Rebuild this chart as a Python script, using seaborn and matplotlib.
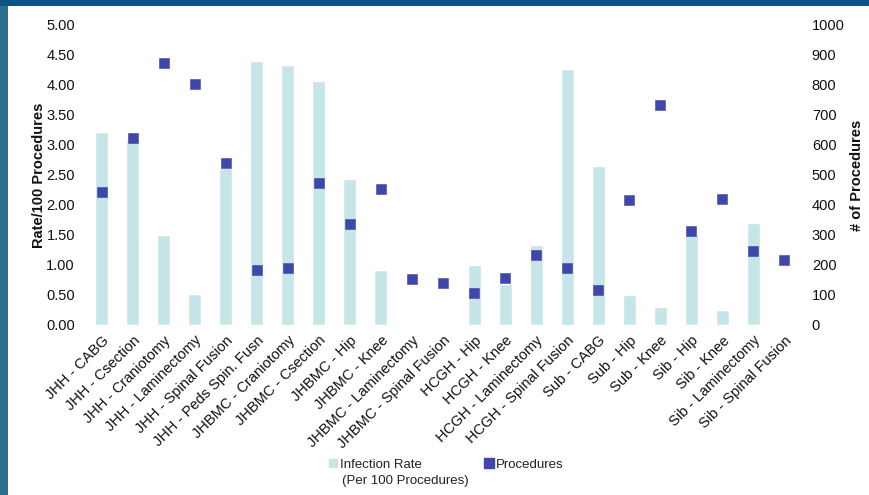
import matplotlib
matplotlib.use("Agg")
import matplotlib.pyplot as plt
from matplotlib.lines import Line2D
from matplotlib.patches import Rectangle
import seaborn as sns
import pandas as pd

procedures_cat = [
    "JHH - CABG", "JHH - Csection", "JHH - Craniotomy", "JHH - Laminectomy",
    "JHH - Spinal Fusion", "JHH - Peds Spin. Fusn", "JHBMC - Craniotomy",
    "JHBMC - Csection", "JHBMC - Hip", "JHBMC - Knee", "JHBMC - Laminectomy",
    "JHBMC - Spinal Fusion", "HCGH - Hip", "HCGH - Knee", "HCGH - Laminectomy",
    "HCGH - Spinal Fusion", "Sub - CABG", "Sub - Hip", "Sub - Knee",
    "Sib - Hip", "Sib - Knee", "Sib - Laminectomy", "Sib - Spinal Fusion",
]
infection_rate = [3.22, 3.08, 1.50, 0.52, 2.62, 4.40, 4.33, 4.07, 2.43, 0.91,
                  0.00, 0.00, 1.00, 0.68, 1.33, 4.27, 2.65, 0.50, 0.30,
                  1.52, 0.25, 1.70, 0.00]
procedure_count = [443, 623, 875, 803, 540, 185, 189, 473, 338, 453,
                   155, 141, 108, 156, 233, 191, 118, 416, 735,
                   313, 421, 246, 218]
rate_ticks = [0, 0.5, 1.0, 1.5, 2.0, 2.5, 3.0, 3.5, 4.0, 4.5, 5.0]
count_ticks = [0, 100, 200, 300, 400, 500, 600, 700, 800, 900, 1000]

df = pd.DataFrame({"category": procedures_cat,
                   "rate": infection_rate,
                   "count": procedure_count})

BAR = "#c6e5e8"
MARK = "#4047aa"
TXT = "#111111"
FS = 10.5

sns.set_style("white")
plt.rcParams["font.family"] = ["Liberation Sans", "DejaVu Sans"]
plt.rcParams["font.size"] = FS

fig = plt.figure(figsize=(8.7, 4.95), dpi=100)
ax = fig.add_axes([86 / 870, 1 - 325 / 495, 714 / 870, 300 / 495])

sns.barplot(data=df, x="category", y="rate", color=BAR, width=0.42,
            saturation=1, ax=ax, zorder=2)
ax.set_ylim(0, 5)
ax.set_yticks(rate_ticks)
ax.set_yticklabels([f"{t:.2f}" for t in rate_ticks], color=TXT, fontsize=FS)
ax.set_ylabel("Rate/100 Procedures", fontweight="bold", color=TXT,
              fontsize=FS, labelpad=0)
ax.set_xlabel("")

ax2 = ax.twinx()
sns.pointplot(data=df, x="category", y="count", color=MARK, marker="s",
              linestyle="none", markersize=7.2, markeredgewidth=0.4,
              markeredgecolor=MARK, ax=ax2, zorder=3)
ax2.set_ylim(0, 1000)
ax2.set_yticks(count_ticks)
ax2.set_yticklabels([str(t) for t in count_ticks], color=TXT, fontsize=FS)
ax2.set_ylabel("# of Procedures", fontweight="bold", color=TXT,
               fontsize=FS, labelpad=4)
ax2.set_xlabel("")
ax.set_xlim(-0.5, len(procedures_cat) - 0.5)

ax.set_xticks(range(len(procedures_cat)))
ax.set_xticklabels(procedures_cat, rotation=45, ha="right",
                   rotation_mode="anchor", color=TXT, fontsize=FS)

for a in (ax, ax2):
    for s in a.spines.values():
        s.set_visible(False)
    a.tick_params(length=0)
    a.grid(False)
ax.tick_params(axis="y", pad=8)
ax.tick_params(axis="x", pad=6)
ax2.tick_params(axis="y", pad=8.5)

# legend below the plot
handles = [
    Line2D([], [], marker="s", linestyle="none", color=BAR, markersize=6),
    Line2D([], [], marker="s", linestyle="none", color=MARK, markersize=7),
]
fig.legend(handles, ["Infection Rate", "Procedures"], ncol=2, frameon=False,
           loc="upper left", bbox_to_anchor=(322 / 870, 1 - 452 / 495),
           handlelength=0.7, handletextpad=0.15, columnspacing=4.75,
           borderpad=0, fontsize=9.5, labelcolor="#222222")
fig.text(342 / 870, 1 - 481 / 495, "(Per 100 Procedures)", fontsize=9.5,
         color="#222222", va="center", ha="left")

# page frame
fig.patches.append(Rectangle((0, 0), 8 / 870, 1, transform=fig.transFigure,
                             facecolor="#2d6e8d", edgecolor="none", zorder=0))
fig.patches.append(Rectangle((0, 1 - 6 / 495), 1, 6 / 495,
                             transform=fig.transFigure,
                             facecolor="#0d5485", edgecolor="none", zorder=0))

fig.savefig("out.png", dpi=100)
